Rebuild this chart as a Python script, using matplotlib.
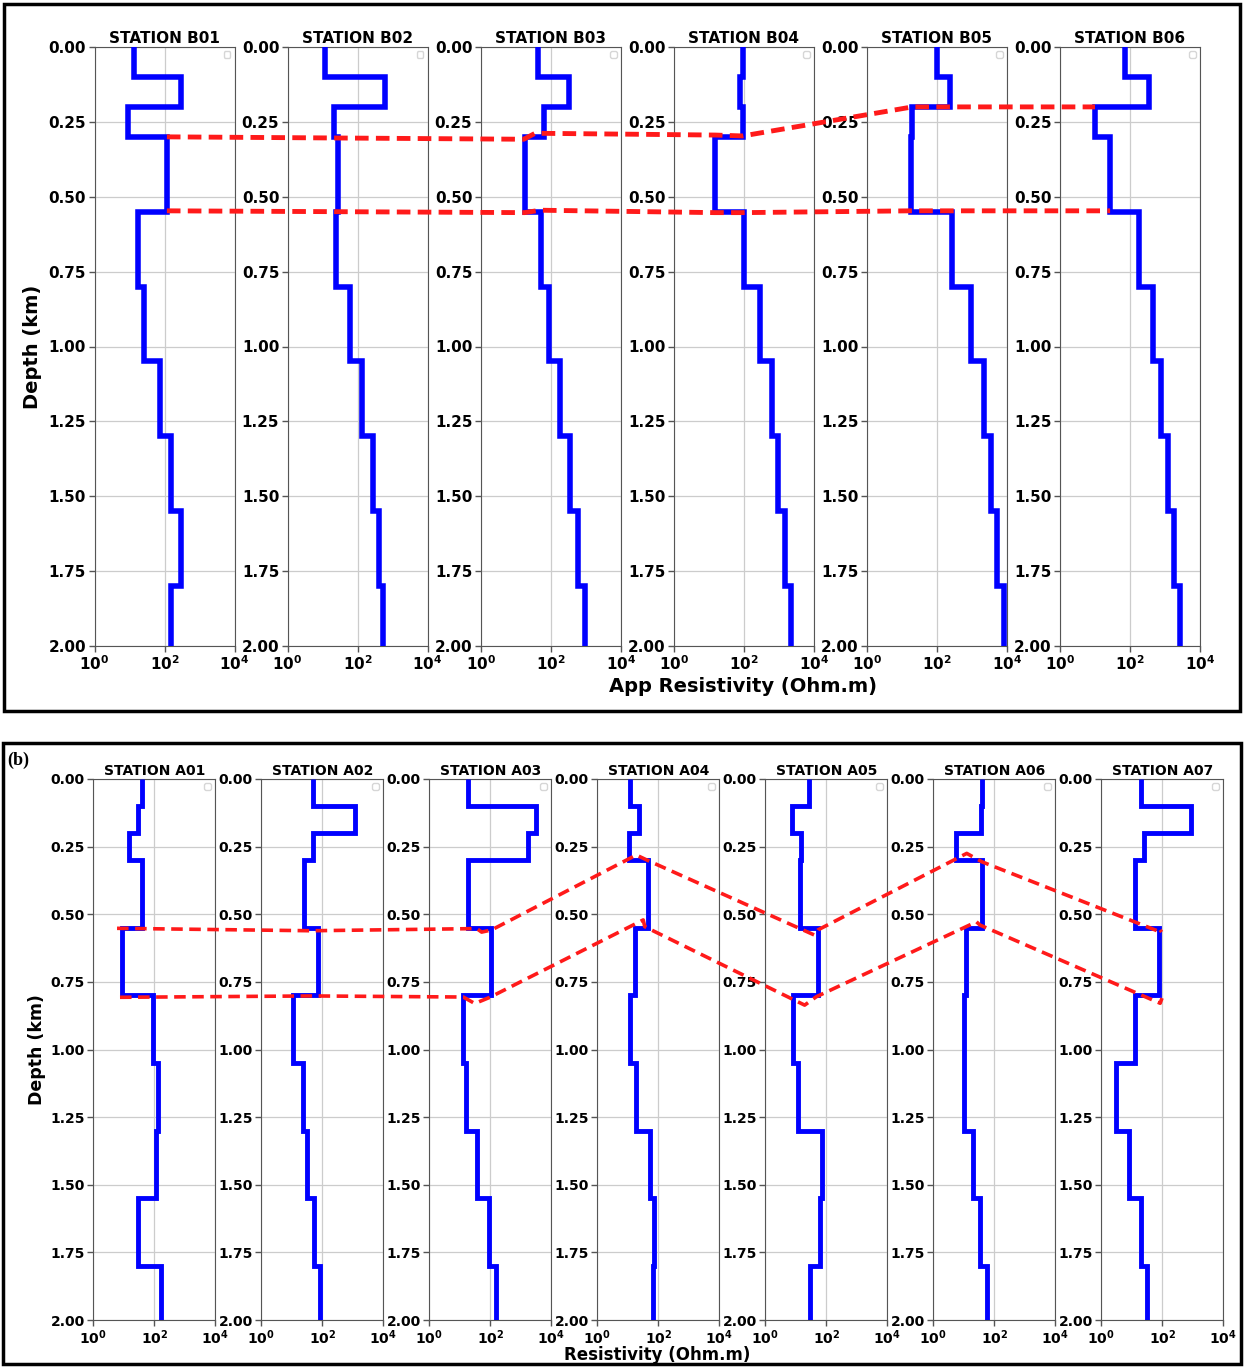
import numpy as np
import matplotlib
matplotlib.use('Agg')
import matplotlib.pyplot as plt
from matplotlib.lines import Line2D
from matplotlib.patches import Rectangle
from matplotlib.ticker import NullLocator

# layer boundaries (km), shared by every station
depth_edges = [0, 0.1, 0.2, 0.3, 0.55, 0.8, 1.05, 1.3, 1.55, 1.8, 2.0]

# top panel: apparent resistivity per layer (Ohm.m)
b_names = ['STATION B01', 'STATION B02', 'STATION B03', 'STATION B04', 'STATION B05', 'STATION B06']
B01 = [13.5, 295, 9, 117, 17, 26, 76, 158, 295, 154]
B02 = [12, 615, 21, 28, 24, 60, 137, 275, 400, 535]
B03 = [42, 323, 66, 18, 54, 91, 182, 346, 615, 970]
B04 = [92, 77, 96, 15, 100, 300, 630, 950, 1500, 2250]
B05 = [100, 240, 20, 18, 270, 950, 2150, 3600, 5200, 8100]
B06 = [70, 360, 10, 27, 175, 450, 790, 1240, 1860, 2640]

# bottom panel
a_names = ['STATION A01', 'STATION A02', 'STATION A03', 'STATION A04', 'STATION A05', 'STATION A06', 'STATION A07']
A01 = [39, 30, 15, 39, 8.5, 93, 130, 118, 30, 160]
A02 = [49, 1150, 49, 26, 72, 11, 24, 31, 53, 83]
A03 = [19, 3150, 1660, 18, 107, 13, 16.5, 37, 89, 150]
A04 = [12, 24, 11, 47, 17, 12, 19, 52, 75, 66]
A05 = [27, 7.6, 15, 14, 53, 8, 12, 75, 64, 29]
A06 = [39, 37, 5.4, 40, 11.5, 10.5, 10.5, 19.5, 33, 56]
A07 = [20, 870, 24.5, 12.4, 76, 13, 3.1, 8.3, 20, 32]

# correlation lines: (station index, resistivity, depth)
b_upper = [(0, 117, 0.30), (2, 17, 0.308), (2, 36, 0.288), (3, 15, 0.294), (3, 93, 0.297),
           (4, 20, 0.20), (4, 240, 0.20), (5, 10, 0.20)]
b_lower = [(0, 117, 0.547), (2, 18, 0.553), (2, 50, 0.545), (3, 15, 0.553), (3, 100, 0.553),
           (4, 18, 0.547), (5, 27, 0.547)]
a_upper = [(0, 6, 0.552), (1, 44, 0.561), (2, 36, 0.553), (2, 52, 0.566), (2, 110, 0.558),
           (3, 19, 0.281), (3, 47, 0.302), (4, 41, 0.577), (4, 53, 0.558), (5, 12.5, 0.275),
           (5, 39, 0.306), (6, 98, 0.568), (6, 85, 0.558)]
a_lower = [(0, 7.5, 0.807), (1, 48, 0.802), (2, 13, 0.806), (2, 31, 0.83), (2, 97, 0.807),
           (3, 32, 0.521), (3, 36, 0.546), (4, 19.5, 0.836), (4, 47, 0.805), (5, 26, 0.528),
           (5, 34, 0.54), (6, 85, 0.829), (6, 98, 0.81)]

W, H = 1244, 1367
fig = plt.figure(figsize=(W / 100, H / 100), dpi=100)


def px_axes(left, top, width, height):
    return fig.add_axes([left / W, 1 - (top + height) / H, width / W, height / H])


def panel(names, data, left0, step, top, width, height, fs, lw):
    axes = []
    for i, (name, rho) in enumerate(zip(names, data)):
        ax = px_axes(left0 + i * step, top, width, height)
        ax.stairs(rho, depth_edges, orientation='horizontal', baseline=None,
                  color='blue', lw=lw, joinstyle='miter', zorder=3)
        ax.set_xscale('log')
        ax.set_xlim(1, 1e4)
        ax.set_ylim(2, 0)
        ax.set_xticks([1, 1e2, 1e4])
        ax.set_xticklabels([r'$\mathdefault{10^{0}}$', r'$\mathdefault{10^{2}}$', r'$\mathdefault{10^{4}}$'])
        ax.xaxis.set_minor_locator(NullLocator())
        ax.set_yticks(np.arange(0, 2.01, 0.25))
        ax.set_yticklabels(['%.2f' % v for v in np.arange(0, 2.01, 0.25)])
        for lab in ax.get_xticklabels() + ax.get_yticklabels():
            lab.set_fontweight('bold')
            lab.set_fontsize(fs)
        ax.tick_params(colors='#555555', labelcolor='black', length=4, width=1, pad=2)
        ax.grid(True, color='#cccccc', lw=0.9)
        for s in ax.spines.values():
            s.set_color('#555555')
        ax.set_title(name, fontsize=fs, fontweight='bold', pad=3)
        ax.legend(handles=[], loc='upper right', fontsize=6)
        axes.append(ax)
    return axes


def corr_line(axes, pts, lw, dashes):
    inv = fig.transFigure.inverted()
    xy = np.array([inv.transform(axes[i].transData.transform((r, d))) for i, r, d in pts])
    fig.add_artist(Line2D(xy[:, 0], xy[:, 1], transform=fig.transFigure,
                          color='#ff1a1a', lw=lw, dashes=dashes, zorder=10))


top_axes = panel(b_names, [B01, B02, B03, B04, B05, B06], 94.5, 193.1, 47, 140, 599, 11, 4)
bot_axes = panel(a_names, [A01, A02, A03, A04, A05, A06, A07], 93.3, 168.0, 779, 122, 541, 10, 3.5)

corr_line(top_axes, b_upper, 3.5, (2.8, 1.5))
corr_line(top_axes, b_lower, 3.5, (2.8, 1.5))
corr_line(bot_axes, a_upper, 2.6, (3.2, 1.8))
corr_line(bot_axes, a_lower, 2.6, (3.2, 1.8))

# axis labels
fig.text(32 / W, 1 - 347 / H, 'Depth (km)', rotation=90, ha='center', va='center',
         fontsize=14, fontweight='bold')
fig.text(743 / W, 1 - 686 / H, 'App Resistivity (Ohm.m)', ha='center', va='center',
         fontsize=14, fontweight='bold')
fig.text(37 / W, 1 - 1050 / H, 'Depth (km)', rotation=90, ha='center', va='center',
         fontsize=12.5, fontweight='bold')
fig.text(657 / W, 1 - 1355 / H, 'Resistivity (Ohm.m)', ha='center', va='center',
         fontsize=12, fontweight='bold')
fig.text(7 / W, 1 - 760 / H, '(b)', ha='left', va='center', fontsize=13,
         fontweight='bold', family='Liberation Serif')

# panel frames
fig.add_artist(Rectangle((4 / W, 1 - 711 / H), 1236 / W, 707 / H, transform=fig.transFigure,
                         fill=False, ec='black', lw=2.5))
fig.add_artist(Rectangle((3 / W, 1 - 1364 / H), 1238 / W, 621 / H, transform=fig.transFigure,
                         fill=False, ec='black', lw=2.5))

fig.savefig('out.png', dpi=100)
